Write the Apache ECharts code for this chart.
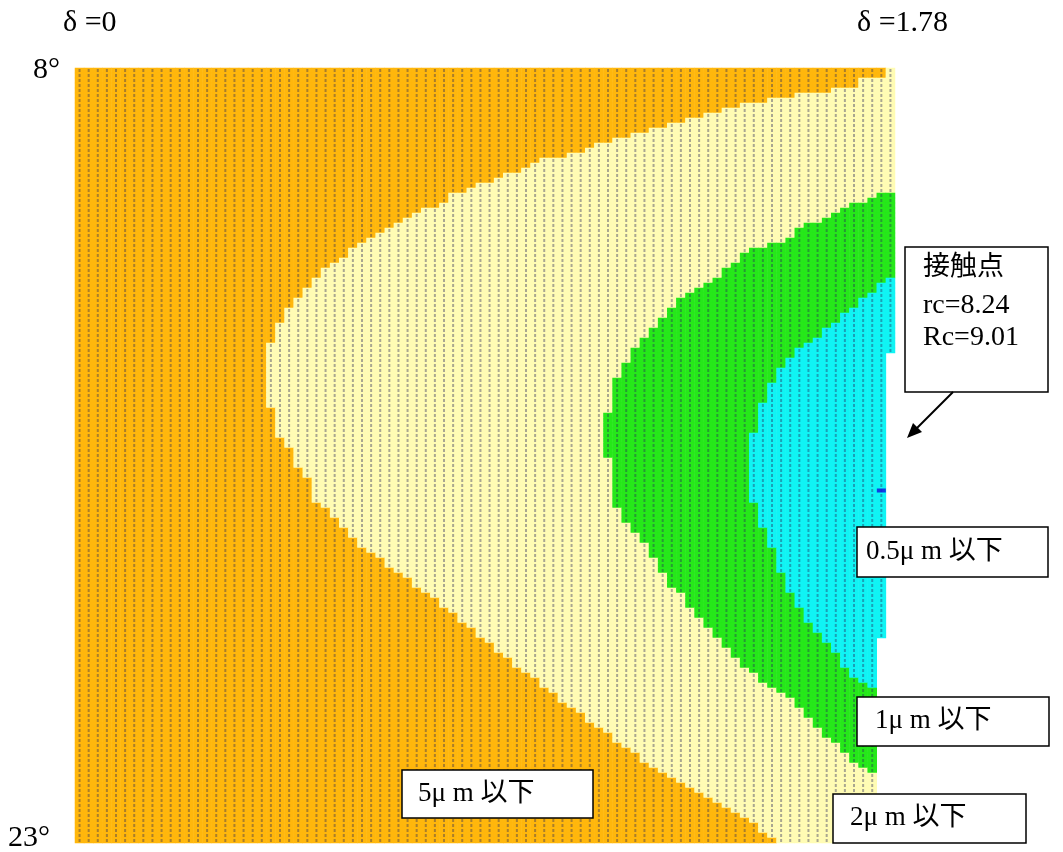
<!DOCTYPE html>
<html>
<head>
<meta charset="utf-8">
<title>接触点 分布</title>
<script src="https://cdn.jsdelivr.net/npm/echarts@6/dist/echarts.min.js"></script>
<style>
  html, body { margin: 0; padding: 0; background: #fff; }
  #chart { width: 1063px; height: 852px; }
</style>
</head>
<body>
<div id="chart"></div>
<script>
// 各行の境界（列番号）: 0..a 橙, a..b 淡黄, b..c 緑, c..e 水色, e 以降は空白
const orangeEnd = [
  89, 89, 86, 86, 83, 79, 76, 73, 71, 69,
  67, 65, 63, 61, 59, 57, 56, 54, 51, 50,
  49, 47, 46, 44, 43, 41, 41, 40, 38, 37,
  36, 35, 34, 33, 32, 31, 30, 30, 29, 28,
  27, 27, 26, 26, 25, 25, 24, 24, 23, 23,
  23, 22, 22, 22, 22, 21, 21, 21, 21, 21,
  21, 21, 21, 21, 21, 21, 21, 21, 22, 22,
  22, 22, 22, 22, 23, 23, 24, 24, 24, 24,
  25, 25, 26, 26, 26, 26, 26, 27, 28, 28,
  29, 29, 30, 30, 31, 31, 32, 33, 34, 34,
  35, 36, 37, 37, 38, 39, 40, 40, 41, 42,
  42, 43, 44, 44, 45, 46, 46, 47, 48, 48,
  49, 50, 51, 51, 52, 53, 53, 54, 55, 56,
  56, 57, 58, 59, 59, 60, 61, 62, 62, 63,
  64, 65, 66, 67, 68, 69, 70, 71, 72, 73,
  74, 75, 75, 76, 77
]
const yellowEnd = [
  90, 90, 90, 90, 90, 90, 90, 90, 90, 90,
  90, 90, 90, 90, 90, 90, 90, 90, 90, 90,
  90, 90, 90, 90, 90, 88, 87, 85, 84, 83,
  82, 80, 79, 79, 78, 76, 74, 73, 73, 72,
  71, 71, 70, 69, 68, 67, 66, 66, 65, 65,
  64, 64, 63, 63, 62, 62, 61, 61, 61, 60,
  60, 60, 59, 59, 59, 59, 59, 59, 59, 58,
  58, 58, 58, 58, 58, 58, 58, 58, 59, 59,
  59, 59, 59, 59, 59, 59, 59, 59, 60, 60,
  60, 61, 61, 62, 62, 63, 63, 63, 64, 64,
  64, 65, 65, 65, 66, 67, 67, 67, 68, 68,
  69, 69, 70, 70, 71, 71, 72, 72, 73, 73,
  74, 75, 75, 76, 77, 78, 79, 79, 80, 80,
  81, 81, 82, 82, 83, 84, 84, 85, 85, 86,
  87, 88, 88, 88, 88, 88, 88, 88, 88, 88,
  88, 88, 88, 88, 88
]
const greenEnd = [
  90, 90, 90, 90, 90, 90, 90, 90, 90, 90,
  90, 90, 90, 90, 90, 90, 90, 90, 90, 90,
  90, 90, 90, 90, 90, 90, 90, 90, 90, 90,
  90, 90, 90, 90, 90, 90, 90, 90, 90, 90,
  90, 90, 89, 88, 88, 87, 86, 86, 85, 84,
  84, 83, 82, 82, 81, 80, 79, 79, 78, 78,
  77, 77, 77, 76, 76, 76, 76, 75, 75, 75,
  75, 75, 75, 74, 74, 74, 74, 74, 74, 74,
  74, 74, 74, 74, 74, 74, 74, 75, 75, 75,
  75, 75, 76, 76, 76, 76, 77, 77, 77, 77,
  77, 78, 78, 78, 78, 79, 79, 79, 80, 80,
  80, 81, 81, 82, 82, 83, 83, 84, 84, 84,
  85, 85, 86, 87, 88, 88, 88, 88, 88, 88,
  88, 88, 88, 88, 88, 88, 88, 88, 88, 88,
  88, 88, 88, 88, 88, 88, 88, 88, 88, 88,
  88, 88, 88, 88, 88
]
const rowEnd = [
  90, 90, 90, 90, 90, 90, 90, 90, 90, 90,
  90, 90, 90, 90, 90, 90, 90, 90, 90, 90,
  90, 90, 90, 90, 90, 90, 90, 90, 90, 90,
  90, 90, 90, 90, 90, 90, 90, 90, 90, 90,
  90, 90, 90, 90, 90, 90, 90, 90, 90, 90,
  90, 90, 90, 90, 90, 90, 90, 89, 89, 89,
  89, 89, 89, 89, 89, 89, 89, 89, 89, 89,
  89, 89, 89, 89, 89, 89, 89, 89, 89, 89,
  89, 89, 89, 89, 89, 89, 89, 89, 89, 89,
  89, 89, 89, 89, 89, 89, 89, 89, 89, 89,
  89, 89, 89, 89, 89, 89, 89, 89, 89, 89,
  89, 89, 89, 89, 88, 88, 88, 88, 88, 88,
  88, 88, 88, 88, 88, 88, 88, 88, 88, 88,
  88, 88, 88, 88, 88, 88, 88, 88, 88, 88,
  88, 88, 88, 88, 88, 88, 88, 88, 88, 88,
  88, 88, 88, 88, 88
]

const levelColors = ['#ffb70c', '#fffcb4', '#26e81a', '#10f4f4']
const contactCell = [88, 84]
const contactText = ['接触点', 'rc=8.24', 'Rc=9.01']
const regionLabels = ['5μ m 以下', '2μ m 以下', '1μ m 以下', '0.5μ m 以下']
const deltaLabels = ['δ =0', 'δ =1.78']
const angleLabels = ['8°', '23°']

const COLS = 90
const ROWS = orangeEnd.length
const colCats = Array.from({ length: COLS }, (_, i) => String(i))
const rowCats = Array.from({ length: ROWS }, (_, i) => String(i))

const cells = []
const dots = []
for (let r = 0; r < ROWS; r++) {
  for (let c = 0; c < rowEnd[r]; c++) {
    const level = c < orangeEnd[r] ? 0 : c < yellowEnd[r] ? 1 : c < greenEnd[r] ? 2 : 3
    cells.push([c, r, level])
    dots.push([c, r])
  }
}

const font = size => `${size}px "Liberation Serif", "Noto Sans CJK JP", serif`

// 注記は別レイヤー（zlevel 1）で点模様より上に描く
const txt = (x, y, text, size) => ({
  type: 'text', x, y, zlevel: 1, z: 100,
  style: { text, font: font(size), fill: '#000', verticalAlign: 'middle' }
})

const box = (x, y, w, h) => ({
  type: 'rect', zlevel: 1, z: 99,
  shape: { x, y, width: w, height: h },
  style: { fill: '#fff', stroke: '#000', lineWidth: 1.5 }
})

const chart = echarts.init(document.getElementById('chart'))

chart.setOption({
  animation: false,
  grid: { left: 75, top: 68, width: 820, height: 775 },
  xAxis: { type: 'category', data: colCats, show: false },
  yAxis: { type: 'category', data: rowCats, show: false, inverse: true },
  visualMap: {
    type: 'piecewise',
    show: false,
    seriesIndex: 0,
    dimension: 2,
    pieces: levelColors.map((color, i) => ({ value: i, color }))
  },
  series: [
    {
      type: 'heatmap',
      data: cells,
      silent: true,
      progressive: 0,
      itemStyle: { borderWidth: 0 }
    },
    {
      // 格子の点模様
      type: 'scatter',
      data: dots,
      silent: true,
      progressive: 0,
      symbol: 'rect',
      symbolSize: [2, 3],
      itemStyle: { color: 'rgba(40, 40, 90, 0.5)' }
    },
    {
      type: 'scatter',
      data: [contactCell],
      silent: true,
      symbol: 'rect',
      symbolSize: [9, 4],
      itemStyle: { color: '#1010e0' },
      z: 5
    }
  ],
  graphic: [
    txt(63, 23, deltaLabels[0], 30),
    txt(857, 23, deltaLabels[1], 30),
    txt(33, 70, angleLabels[0], 30),
    txt(8, 838, angleLabels[1], 30),

    box(905, 247, 143, 145),
    txt(923, 268, contactText[0], 27),
    txt(923, 306, contactText[1], 28),
    txt(923, 338, contactText[2], 28),
    {
      type: 'line', zlevel: 1, z: 100,
      shape: { x1: 953, y1: 392, x2: 914, y2: 431 },
      style: { stroke: '#000', lineWidth: 2 }
    },
    {
      type: 'polygon', zlevel: 1, z: 100,
      shape: { points: [[907, 438], [922, 432], [913, 423]] },
      style: { fill: '#000' }
    },

    box(402, 770, 191, 48),
    txt(418, 794, regionLabels[0], 27),
    box(833, 794, 193, 49),
    txt(850, 818, regionLabels[1], 27),
    box(857, 697, 192, 49),
    txt(875, 721, regionLabels[2], 27),
    box(857, 527, 191, 50),
    txt(866, 552, regionLabels[3], 27)
  ]
})

window.addEventListener('resize', () => chart.resize())
</script>
</body>
</html>
